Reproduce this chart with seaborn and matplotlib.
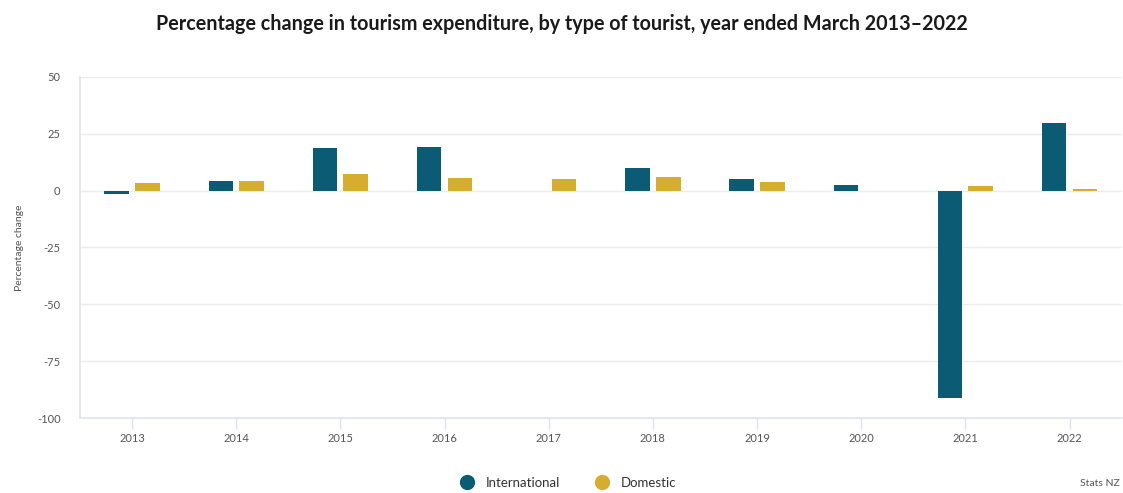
import matplotlib
matplotlib.use("Agg")
import matplotlib.pyplot as plt
from matplotlib.lines import Line2D
import seaborn as sns
import pandas as pd

# Year ended March, percentage change in tourism expenditure
years = ["2013", "2014", "2015", "2016", "2017", "2018", "2019", "2020", "2021", "2022"]
international = [-1.3, 4.4, 18.6, 19.4, -0.3, 9.9, 5.0, 2.5, -91.3, 29.8]
domestic = [3.5, 4.4, 7.3, 5.4, 5.1, 6.1, 3.9, 0.0, 2.2, 0.9]
series_names = ["International", "Domestic"]
y_ticks = [-100, -75, -50, -25, 0, 25, 50]

colors = {"International": "#0c5b74", "Domestic": "#d5ad31"}
axis_col = "#dde3ee"
grid_col = "#ececec"
text_col = "#555555"

df = pd.DataFrame({
    "Year": years * 2,
    "Change": international + domestic,
    "Type": [series_names[0]] * len(years) + [series_names[1]] * len(years),
})

sns.set_theme(style="white")
plt.rcParams["font.family"] = ["Lato", "DejaVu Sans"]

fig = plt.figure(figsize=(11.23, 4.93), dpi=100)
ax = fig.add_axes([0.0712, 0.152, 0.9276, 0.692])

sns.barplot(data=df, x="Year", y="Change", hue="Type", hue_order=series_names,
            palette=colors, saturation=1, width=0.59, gap=0.2, legend=False, ax=ax,
            edgecolor="none", linewidth=0)

ax.set_ylim(-100, 50)
ax.set_xlim(-0.5, len(years) - 0.5)
ax.set_yticks(y_ticks)
ax.set_yticklabels([str(t) for t in y_ticks])
for t in y_ticks[1:]:
    ax.axhline(t, color=grid_col, lw=1.0, zorder=0)

for side in ["top", "right"]:
    ax.spines[side].set_visible(False)
for side in ["left", "bottom"]:
    ax.spines[side].set_color(axis_col)
    ax.spines[side].set_linewidth(1.2)

ax.tick_params(axis="y", length=0, pad=14, labelsize=8, labelcolor=text_col)
ax.tick_params(axis="x", length=8, width=1.0, color=axis_col, pad=3,
               labelsize=8, labelcolor=text_col, bottom=True)
ax.set_xlabel("")
ax.set_ylabel("Percentage change", fontsize=7.5, color=text_col, labelpad=6)
ax.yaxis.set_label_coords(-0.054, 0.5)

fig.text(0.5, 0.951, "Percentage change in tourism expenditure, by type of tourist, year ended March 2013\u20132022",
         ha="center", va="center", fontsize=14.2, fontweight="bold", color="#1a1a1a")

handles = [Line2D([], [], marker="o", ls="none", markersize=11,
                  markerfacecolor=colors[n], markeredgecolor="none") for n in series_names]
fig.legend(handles, series_names, loc="center", bbox_to_anchor=(0.503, 0.021),
           ncol=2, frameon=False, fontsize=9.5, handletextpad=0.4,
           columnspacing=2.2, labelcolor="#333333")

fig.text(0.997, 0.01, "Stats NZ", ha="right", va="bottom", fontsize=7.5, color=text_col)

fig.savefig("out.png", dpi=100, facecolor="white")
